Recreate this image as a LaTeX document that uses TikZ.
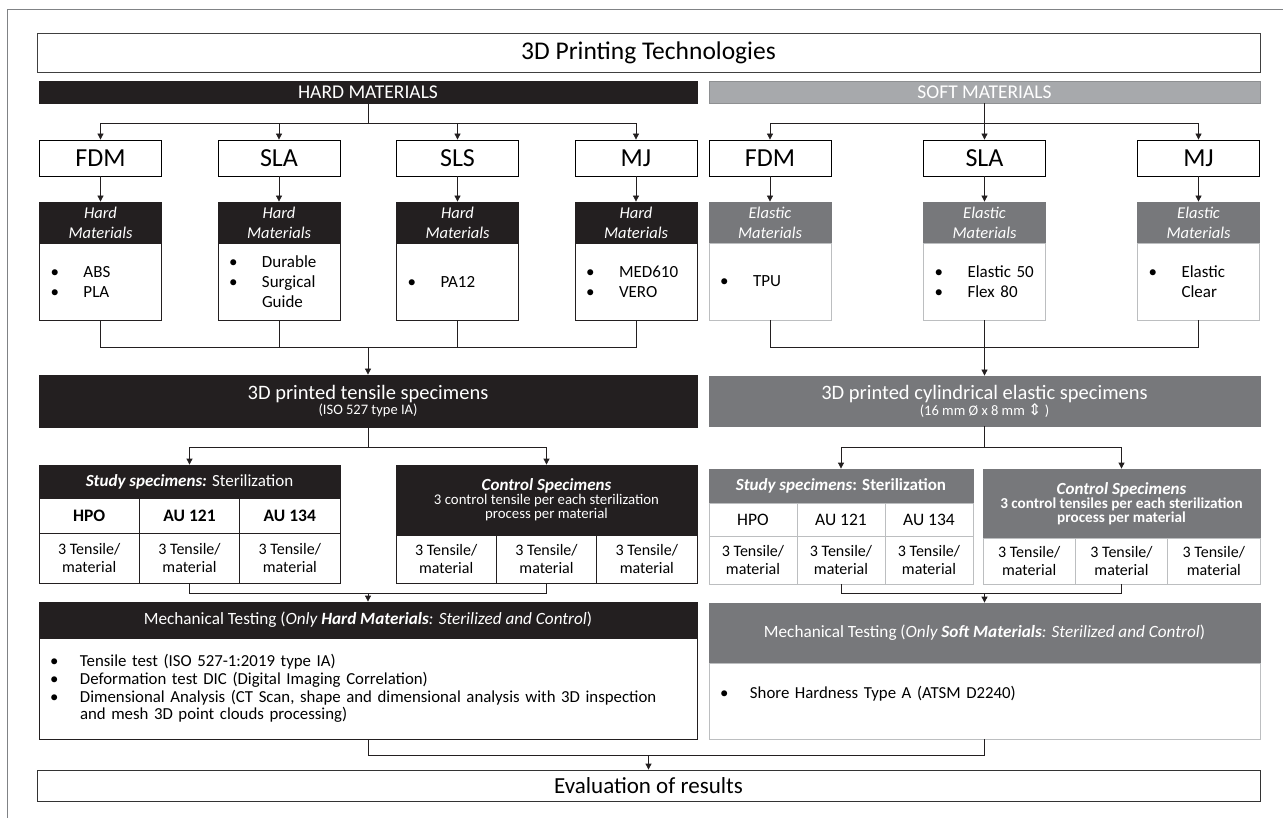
\documentclass[tikz,border=0pt]{standalone}
\usepackage{fontspec}
\setmainfont{Carlito}
\newfontfamily\symfont{DejaVu Sans}
\usetikzlibrary{arrows.meta}

\definecolor{hardblack}{HTML}{231F20}
\definecolor{softbar}{HTML}{A7A9AC}
\definecolor{softdark}{HTML}{77787B}
\definecolor{softline}{HTML}{BCBEC0}
\definecolor{frameline}{HTML}{808285}

\newcommand{\fs}[2]{\fontsize{#1}{#2}\selectfont}
\newcommand{\itm}[2][37pt]{\makebox[#1][l]{\hspace{4pt}\textbullet}#2}

\tikzset{
  base/.style={inner sep=0pt, align=center, line width=0.8pt},
  techbox/.style={base, draw=black, fill=white, minimum width=122pt, minimum height=36pt, font=\fs{26}{30}},
  hardhd/.style={base, draw=hardblack, fill=hardblack, text=white},
  softhd/.style={base, draw=softdark, fill=softdark, text=white},
  mathd/.style={minimum width=122pt, minimum height=41pt, font=\itshape\fs{16.5}{20}},
  matlist/.style={base, fill=white, inner xsep=7pt, text width=108pt, align=left, minimum height=77pt, font=\fs{17}{20}},
  hardcell/.style={base, draw=hardblack, fill=white},
  softcell/.style={base, draw=softline, fill=white},
  link/.style={line width=0.8pt, draw=hardblack},
  arr/.style={link, -{Triangle[length=6pt,width=6pt]}},
}

\begin{document}
\begin{tikzpicture}[x=1pt, y=-1pt]
	\useasboundingbox (0,0) rectangle (1283,818);
	\draw[frameline, line width=0.8pt] (7,818) -- (7,9) -- (1283,9);
	%
	\node[base, draw=black!75, minimum width=1223pt, minimum height=39pt, font=\fs{25.5}{28}] (title) at (648.5,52.5) {3D Printing Technologies};
	\node[hardhd, minimum width=658pt, minimum height=22pt, font=\fs{19.5}{20}] (hard) at (368,92) {HARD MATERIALS};
	\node[base, draw=softbar!85!black, fill=softbar, text=white, minimum width=551pt, minimum height=22pt, font=\fs{19.5}{20}] (soft) at (984.5,92) {SOFT MATERIALS};
	%
	\node[techbox] (hfdm) at (100.5,158) {FDM};
	\node[techbox] (hsla) at (279,158) {SLA};
	\node[techbox] (hsls) at (457.5,158) {SLS};
	\node[techbox] (hmj) at (636,158) {MJ};
	\node[techbox] (sfdm) at (770,158) {FDM};
	\node[techbox] (ssla) at (984.5,158) {SLA};
	\node[techbox] (smj) at (1198.5,158) {MJ};
	%
	\node[hardhd, mathd] (hfdmh) at (100.5,222.5) {Hard\\Materials};
	\node[hardhd, mathd] (hslah) at (279,222.5) {Hard\\Materials};
	\node[hardhd, mathd] (hslsh) at (457.5,222.5) {Hard\\Materials};
	\node[hardhd, mathd] (hmjh) at (636,222.5) {Hard\\Materials};
	\node[softhd, mathd] (sfdmh) at (770,222.5) {Elastic\\Materials};
	\node[softhd, mathd] (sslah) at (984.5,222.5) {Elastic\\Materials};
	\node[softhd, mathd] (smjh) at (1198.5,222.5) {Elastic\\Materials};
	%
	\node[matlist, draw=hardblack] (hfdmc) at (100.5,281.5) {\itm{ABS}\\\itm{PLA}};
	\node[matlist, draw=hardblack] (hslac) at (279,281.5) {\itm{Durable}\\\itm{Surgical}\\\hspace*{37pt}Guide};
	\node[matlist, draw=hardblack] (hslsc) at (457.5,281.5) {\itm{PA12}};
	\node[matlist, draw=hardblack] (hmjc) at (636,281.5) {\itm{MED610}\\\itm{VERO}};
	\node[matlist, draw=softline] (sfdmc) at (770,281.5) {\itm{TPU}};
	\node[matlist, draw=softline] (sslac) at (984.5,281.5) {\itm{Elastic 50}\\\itm{Flex 80}};
	\node[matlist, draw=softline] (smjc) at (1198.5,281.5) {\itm{Elastic}\\\hspace*{37pt}Clear};
	%
	\draw[link] (hard.south) -- ++(0,20) coordinate (hbranch);
	\draw[arr] (hbranch) -| (hfdm.north);
	\draw[arr] (hbranch) -| (hsla.north);
	\draw[arr] (hbranch) -| (hsls.north);
	\draw[arr] (hbranch) -| (hmj.north);
	\draw[link] (soft.south) -- ++(0,20) coordinate (sbranch);
	\draw[arr] (sbranch) -| (sfdm.north);
	\draw[arr] (sbranch) -- (ssla.north);
	\draw[arr] (sbranch) -| (smj.north);
	%
	\draw[arr] (hfdm) -- (hfdmh);
	\draw[arr] (hsla) -- (hslah);
	\draw[arr] (hsls) -- (hslsh);
	\draw[arr] (hmj) -- (hmjh);
	\draw[arr] (sfdm) -- (sfdmh);
	\draw[arr] (ssla) -- (sslah);
	\draw[arr] (smj) -- (smjh);
	%
	\node[hardhd, minimum width=658pt, minimum height=52pt] (tens) at (368,401) {{\fs{20.5}{22}3D printed tensile specimens}\\{\fs{14.5}{20}(ISO 527 type IA)}};
	\node[softhd, minimum width=551pt, minimum height=50pt] (cyl) at (984.5,401) {{\fs{20.5}{22}3D printed cylindrical elastic specimens}\\{\fs{14.5}{20}(16 mm Ø x 8 mm {\symfont\fs{16}{20}⇕} )}};
	%
	\coordinate (hmerge) at (368,347);
	\draw[link] (hfdmc.south) |- (hmerge);
	\draw[link] (hmjc.south) |- (hmerge);
	\draw[link] (hslac.south) -- (hslac.south |- hmerge);
	\draw[link] (hslsc.south) -- (hslsc.south |- hmerge);
	\draw[arr] (hmerge) -- (tens.north);
	\coordinate (smerge) at (984.5,347);
	\draw[link] (sfdmc.south) |- (smerge);
	\draw[link] (smjc.south) |- (smerge);
	\draw[link] (sslac.south) -- (smerge);
	\draw[arr] (smerge) -- (cyl.north);
	%
	% hard study / control tables
	\node[hardhd, minimum width=301pt, minimum height=33pt, font=\fs{17}{18}] (hstudyh) at (189.5,481.5) {\textbf{\textit{Study specimens:}} Sterilization};
	\node[hardcell, minimum width=100.33pt, minimum height=35pt, font=\bfseries\fs{17.5}{18}] (hhpo) at (89.17,515.5) {HPO};
	\node[hardcell, minimum width=100.33pt, minimum height=35pt, font=\bfseries\fs{17.5}{18}] (hau1) at (189.5,515.5) {AU 121};
	\node[hardcell, minimum width=100.33pt, minimum height=35pt, font=\bfseries\fs{17.5}{18}] (hau2) at (289.83,515.5) {AU 134};
	\node[hardcell, minimum width=100.33pt, minimum height=50pt, font=\fs{16}{18}] (hst1) at (89.17,558) {3 Tensile/\\material};
	\node[hardcell, minimum width=100.33pt, minimum height=50pt, font=\fs{16}{18}] (hst2) at (189.5,558) {3 Tensile/\\material};
	\node[hardcell, minimum width=100.33pt, minimum height=50pt, font=\fs{16}{18}] (hst3) at (289.83,558) {3 Tensile/\\material};
	%
	\node[hardhd, minimum width=301pt, minimum height=70pt] (hctrlh) at (546.5,500) {{\bfseries\itshape\fs{17}{19}Control Specimens}\\{\fs{14.8}{17}3 control tensile per each sterilization}\\{\fs{14.8}{17}process per material}};
	\node[hardcell, minimum width=100.33pt, minimum height=48pt, font=\fs{16}{18}] (hct1) at (446.17,559) {3 Tensile/\\material};
	\node[hardcell, minimum width=100.33pt, minimum height=48pt, font=\fs{16}{18}] (hct2) at (546.5,559) {3 Tensile/\\material};
	\node[hardcell, minimum width=100.33pt, minimum height=48pt, font=\fs{16}{18}] (hct3) at (646.83,559) {3 Tensile/\\material};
	%
	% soft study / control tables
	\node[softhd, minimum width=264pt, minimum height=34pt, font=\bfseries\fs{17}{18}] (sstudyh) at (841,486) {\textit{Study specimens}: Sterilization};
	\node[softcell, minimum width=88pt, minimum height=33pt, font=\fs{17.5}{18}] (shpo) at (753,519.5) {HPO};
	\node[softcell, minimum width=88pt, minimum height=33pt, font=\fs{17.5}{18}] (sau1) at (841,519.5) {AU 121};
	\node[softcell, minimum width=88pt, minimum height=33pt, font=\fs{17.5}{18}] (sau2) at (929,519.5) {AU 134};
	\node[softcell, minimum width=88pt, minimum height=48pt, font=\fs{16}{18}] (sst1) at (753,560) {3 Tensile/\\material};
	\node[softcell, minimum width=88pt, minimum height=48pt, font=\fs{16}{18}] (sst2) at (841,560) {3 Tensile/\\material};
	\node[softcell, minimum width=88pt, minimum height=48pt, font=\fs{16}{18}] (sst3) at (929,560) {3 Tensile/\\material};
	%
	\node[softhd, minimum width=277pt, minimum height=69pt] (sctrlh) at (1121.5,503.5) {{\bfseries\itshape\fs{17}{19}Control Specimens}\\{\bfseries\fs{15.2}{17}3 control tensiles per each sterilization}\\{\bfseries\fs{15.2}{17}process per material}};
	\node[softcell, minimum width=92.33pt, minimum height=46pt, font=\fs{16}{18}] (sct1) at (1029.17,561) {3 Tensile/\\material};
	\node[softcell, minimum width=92.33pt, minimum height=46pt, font=\fs{16}{18}] (sct2) at (1121.5,561) {3 Tensile/\\material};
	\node[softcell, minimum width=92.33pt, minimum height=46pt, font=\fs{16}{18}] (sct3) at (1213.83,561) {3 Tensile/\\material};
	%
	\draw[link] (tens.south) -- ++(0,20) coordinate (hsplit);
	\draw[arr] (hsplit) -| (hstudyh.north);
	\draw[arr] (hsplit) -| (hctrlh.north);
	\draw[link] (cyl.south) -- (984.5,447) coordinate (ssplit);
	\draw[arr] (ssplit) -| (sstudyh.north);
	\draw[arr] (ssplit) -| (sctrlh.north);
	%
	% mechanical testing
	\node[hardhd, minimum width=658pt, minimum height=36pt, font=\fs{17.2}{18}] (hmechh) at (368,620) {Mechanical Testing (\textit{Only \textbf{Hard Materials}: Sterilized and Control})};
	\node[base, draw=hardblack, fill=white, inner xsep=7pt, text width=644pt, align=left, minimum height=101pt, font=\fs{16.8}{17.8}] (hmechc) at (368,688.5) {\itm[34pt]{Tensile test (ISO 527-1:2019 type IA)}\\\itm[34pt]{Deformation test DIC (Digital Imaging Correlation)}\\\itm[34pt]{Dimensional Analysis (CT Scan, shape and dimensional analysis with 3D inspection}\\\hspace*{34pt}and mesh 3D point clouds processing)};
	\node[softhd, minimum width=551pt, minimum height=60pt, font=\fs{17.2}{18}] (smechh) at (984.5,633) {Mechanical Testing (\textit{Only \textbf{Soft Materials}: Sterilized and Control})};
	\node[base, draw=softline, fill=white, inner xsep=7pt, text width=537pt, align=left, minimum height=76pt, font=\fs{16.8}{17.8}] (smechc) at (984.5,701) {\itm[34pt]{Shore Hardness Type A (ATSM D2240)}\\\mbox{}};
	%
	\coordinate (hm2) at (368,593);
	\draw[link] (hst2.south) |- (hm2);
	\draw[link] (hct2.south) |- (hm2);
	\draw[arr] (hm2) -- (hmechh.north);
	\coordinate (sm2) at (984.5,593);
	\draw[link] (sst2.south) |- (sm2);
	\draw[link] (sct2.south) |- (sm2);
	\draw[arr] (sm2) -- (smechh.north);
	%
	\node[base, draw=black!80, minimum width=1223pt, minimum height=31pt, font=\fs{23}{26}] (eval) at (648.5,785.5) {Evaluation of results};
	\coordinate (emerge) at (648.5,755);
	\draw[link] (hmechc.south) |- (emerge);
	\draw[link] (smechc.south) |- (emerge);
	\draw[arr] (emerge) -- (eval.north);
\end{tikzpicture}
\end{document}
